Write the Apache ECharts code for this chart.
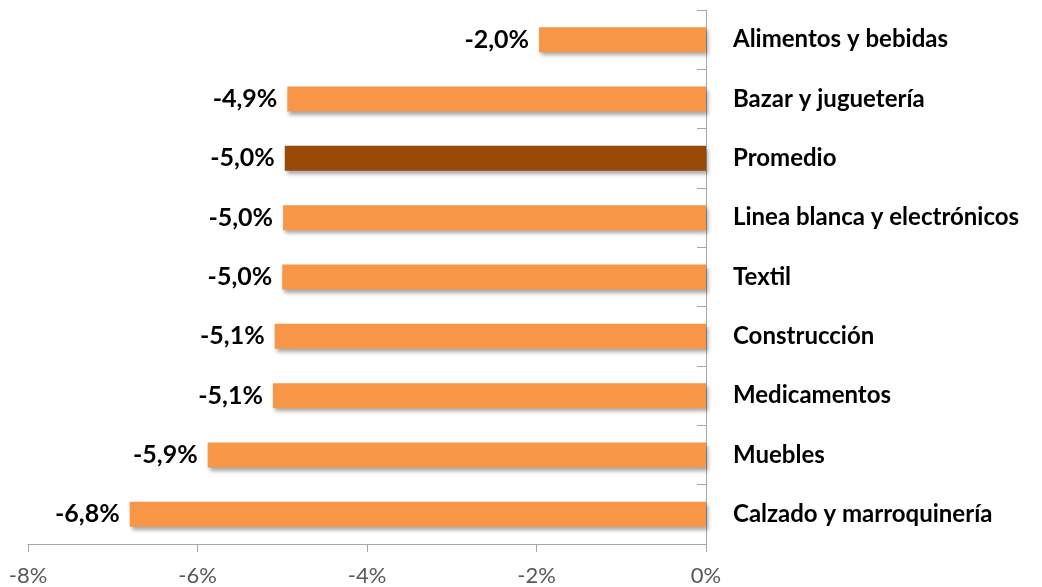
<!DOCTYPE html>
<html>
<head>
<meta charset="utf-8">
<script src="https://cdn.jsdelivr.net/npm/echarts@6/dist/echarts.min.js"></script>
<style>
  html, body { margin: 0; padding: 0; background: #fff; }
  #chart { width: 1042px; height: 587px; }
</style>
</head>
<body>
<div id="chart"></div>
<script>
// categorias (de arriba hacia abajo)
var categories = [
  'Alimentos y bebidas',
  'Bazar y juguetería',
  'Promedio',
  'Linea blanca y electrónicos',
  'Textil',
  'Construcción',
  'Medicamentos',
  'Muebles',
  'Calzado y marroquinería'
]
// variación (%)
var values = [-1.97, -4.94, -4.97, -4.99, -5.0, -5.09, -5.11, -5.88, -6.8]
var highlight = 'Promedio'
var xTicks = [-8, -6, -4, -2, 0]

var barColor = '#f79646'
var avgColor = '#984807'

var myChart = echarts.init(document.getElementById('chart'))

var data = values.map(function (v, i) {
  return {
    value: v,
    itemStyle: { color: categories[i] === highlight ? avgColor : barColor }
  }
})

myChart.setOption({
  animation: false,
  grid: { left: 28, right: 336, top: 10, bottom: 43, containLabel: false },
  xAxis: {
    type: 'value',
    min: xTicks[0],
    max: xTicks[xTicks.length - 1],
    interval: 2,
    splitLine: { show: false },
    axisLine: { show: true, lineStyle: { color: '#a6a6a6', width: 1 } },
    axisTick: { show: true, length: 8, lineStyle: { color: '#a6a6a6' } },
    axisLabel: {
      color: '#595959',
      fontFamily: 'Lato',
      fontSize: 22,
      margin: 21,
      formatter: function (v) { return v + '%' }
    }
  },
  yAxis: {
    type: 'category',
    data: categories,
    inverse: true,
    position: 'right',
    axisLine: { show: true, onZero: false, lineStyle: { color: '#a6a6a6', width: 1 } },
    axisTick: { show: true, inside: true, length: 9, lineStyle: { color: '#a6a6a6' } },
    axisLabel: {
      color: '#000',
      fontFamily: 'Lato',
      fontWeight: 'bold',
      fontSize: 24,
      margin: 27,
      align: 'left'
    }
  },
  series: [
    {
      type: 'bar',
      data: data,
      barWidth: 25,
      itemStyle: {
        shadowColor: 'rgba(0,0,0,0.35)',
        shadowBlur: 4,
        shadowOffsetX: 2,
        shadowOffsetY: 3
      },
      label: {
        show: true,
        position: 'left',
        distance: 10,
        color: '#000',
        fontFamily: 'Lato',
        fontWeight: 'bold',
        fontSize: 25,
        formatter: function (p) {
          return p.value.toFixed(1).replace('.', ',') + '%'
        }
      }
    }
  ]
})
</script>
</body>
</html>
